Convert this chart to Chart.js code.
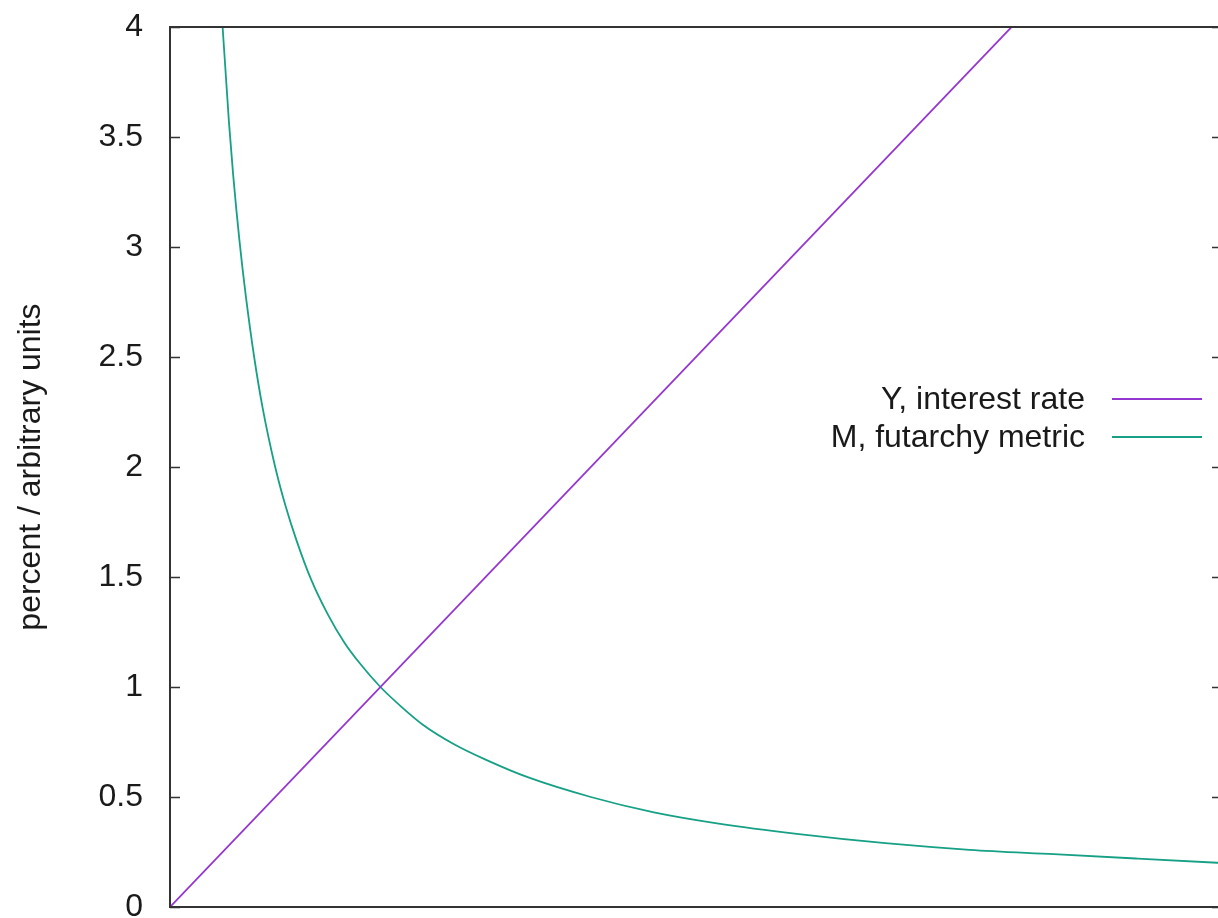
<!DOCTYPE html>
<html>
<head>
<meta charset="utf-8">
<script src="https://cdn.jsdelivr.net/npm/chart.js@4"></script>
<style>
  html, body { margin: 0; padding: 0; background: #fff; overflow: hidden; }
  #chart { display: block; }
</style>
</head>
<body>
<canvas id="chart" width="1240" height="918" style="width:1240px;height:918px"></canvas>
<script>
const FONT = "'Liberation Sans', Arial, sans-serif";

// Y, interest rate (straight line)
const rateX = [0, 5];
const rateY = [0, 5];

// M, futarchy metric
const metricX = [0.2, 0.22, 0.25, 0.28, 0.3, 0.33, 0.36, 0.4, 0.44, 0.5, 0.55, 0.6, 0.67, 0.75, 0.83, 0.9,
                 1.0, 1.1, 1.2, 1.35, 1.5, 1.7, 2.0, 2.3, 2.6, 3.0, 3.4, 3.8, 4.2, 4.6, 5.0];
const metricY = [5.0, 4.55, 4.0, 3.57, 3.33, 3.03, 2.78, 2.5, 2.27, 2.0, 1.82, 1.67, 1.49, 1.33, 1.2, 1.11,
                 1.0, 0.91, 0.83, 0.74, 0.67, 0.59, 0.5, 0.43, 0.38, 0.33, 0.29, 0.26, 0.24, 0.22, 0.2];

const yTickLabels = ["0", "0.5", "1", "1.5", "2", "2.5", "3", "3.5", "4"];
const seriesNames = ["Y, interest rate", "M, futarchy metric"];
const seriesColors = ["#9436cf", "#16a085"];

const toPoints = (xs, ys) => xs.map((x, i) => ({ x, y: ys[i] }));

// frame, inward ticks on both sides, legend with text left of the sample
const gnuplotBits = {
  id: "gnuplotBits",
  afterDraw(chart) {
    const { ctx, chartArea: a, scales } = chart;
    ctx.save();
    ctx.strokeStyle = "#333";
    ctx.lineWidth = 2;
    ctx.strokeRect(a.left, a.top, a.right - a.left, a.bottom - a.top);

    ctx.lineWidth = 1.5;
    scales.y.ticks.forEach(t => {
      const py = Math.round(scales.y.getPixelForValue(t.value)) + 0.5;
      ctx.beginPath();
      ctx.moveTo(a.left, py); ctx.lineTo(a.left + 10, py);
      ctx.moveTo(a.right - 10, py); ctx.lineTo(a.right, py);
      ctx.stroke();
    });

    ctx.font = `32px ${FONT}`;
    ctx.textAlign = "right";
    ctx.textBaseline = "middle";
    chart.data.datasets.forEach((ds, i) => {
      const ry = 399 + i * 38;
      ctx.fillStyle = "#1a1a1a";
      ctx.fillText(ds.label, 1085, ry + 1);
      ctx.strokeStyle = ds.borderColor;
      ctx.lineWidth = 1.8;
      ctx.beginPath();
      ctx.moveTo(1112, ry); ctx.lineTo(1202, ry);
      ctx.stroke();
    });
    ctx.restore();
  }
};

new Chart(document.getElementById("chart"), {
  type: "line",
  data: {
    datasets: [
      {
        label: seriesNames[0],
        data: toPoints(rateX, rateY),
        borderColor: seriesColors[0],
        borderWidth: 1.8,
        pointRadius: 0,
        tension: 0
      },
      {
        label: seriesNames[1],
        data: toPoints(metricX, metricY),
        borderColor: seriesColors[1],
        borderWidth: 1.8,
        pointRadius: 0,
        cubicInterpolationMode: "monotone"
      }
    ]
  },
  options: {
    responsive: false,
    animation: false,
    layout: { padding: { left: 0, right: 18, top: 27, bottom: 11 } },
    plugins: { legend: { display: false }, tooltip: { enabled: false } },
    scales: {
      x: { type: "linear", min: 0, max: 5, display: false },
      y: {
        min: 0,
        max: 4,
        grid: { display: false },
        border: { display: false },
        ticks: {
          stepSize: 0.5,
          padding: 19,
          color: "#1a1a1a",
          font: { family: FONT, size: 32 },
          callback: (v, i) => yTickLabels[i]
        },
        title: {
          display: true,
          text: "percent / arbitrary units",
          color: "#1a1a1a",
          font: { family: FONT, size: 32 },
          padding: { top: 12, bottom: 0 }
        },
        afterFit: s => { s.width = 170; s.paddingTop = 0; s.paddingBottom = 0; }
      }
    }
  },
  plugins: [gnuplotBits]
});
</script>
</body>
</html>
